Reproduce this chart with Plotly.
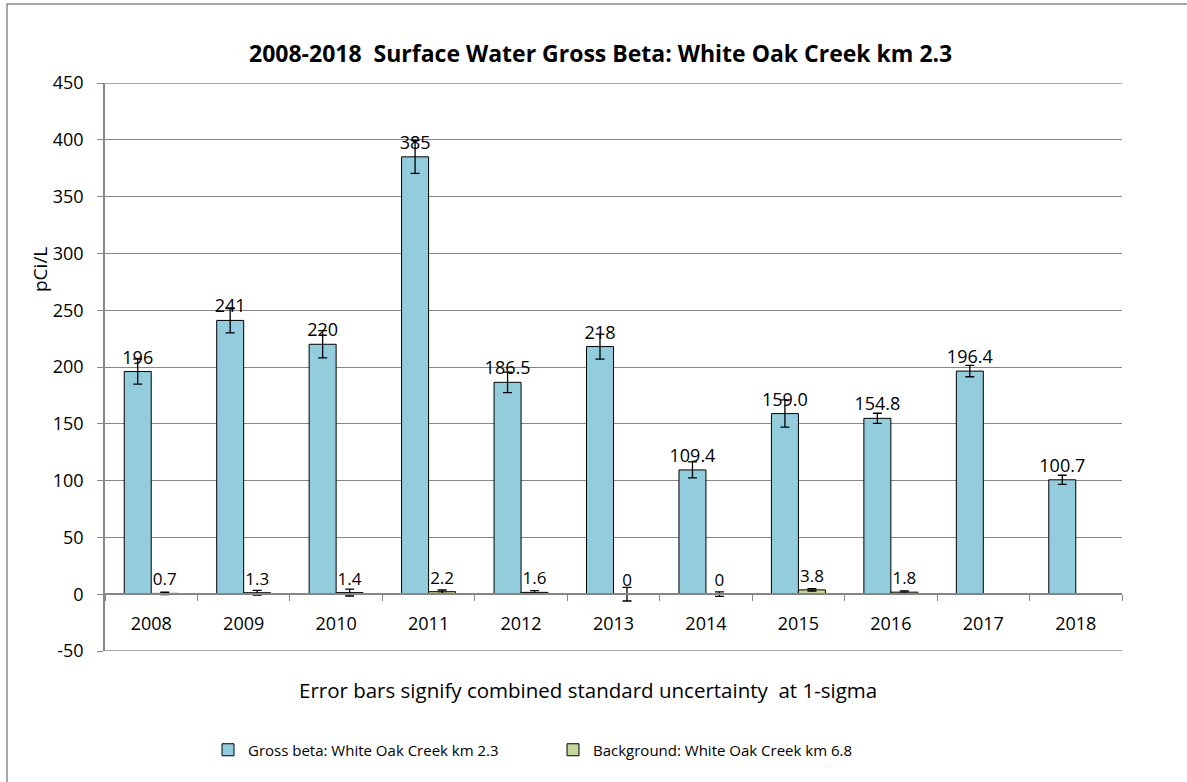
import plotly.graph_objects as go

years = ["2008", "2009", "2010", "2011", "2012", "2013", "2014", "2015", "2016", "2017", "2018"]
gross_beta = [196, 241, 220, 385, 186.5, 218, 109.4, 159.0, 154.8, 196.4, 100.7]
gross_beta_err = [11, 11, 12, 14.5, 9, 11, 7, 12, 4.5, 5, 4]
gross_beta_labels = ["196", "241", "220", "385", "186.5", "218", "109.4", "159.0", "154.8", "196.4", "100.7"]
background = [0.7, 1.3, 1.4, 2.2, 1.6, 0, 0, 3.8, 1.8, None, None]
background_err = [1, 2, 3, 1.5, 1.5, 6, 2, 1, 1, None, None]
background_labels = ["0.7", "1.3", "1.4", "2.2", "1.6", "0", "0", "3.8", "1.8", "", ""]
y_ticks = [-50, 0, 50, 100, 150, 200, 250, 300, 350, 400, 450]
y_tick_labels = ["-50", "0", "50", "100", "150", "200", "250", "300", "350", "400", "450"]

W, H = 1187, 782
L, R, T, B = 105, 65, 83, 131
pw, ph = W - L - R, H - T - B
ymin, ymax = -50, 450
FONT = "Open Sans"
GRAY = "#868686"

def px_x(p):
    return (p - L) / pw

def px_y(p):
    return (H - B - p) / ph

fig = go.Figure()
fig.add_trace(go.Bar(
    x=years, y=gross_beta, name="Gross beta: White Oak Creek km 2.3",
    marker=dict(color="#93CDDD", line=dict(color="#000000", width=1)),
    error_y=dict(type="data", array=gross_beta_err, color="#000000", thickness=1.3, width=4.5),
    text=gross_beta_labels, textposition="outside", cliponaxis=False, constraintext="none",
    textfont=dict(family=FONT, size=18, color="#000000"),
))
fig.add_trace(go.Bar(
    x=years, y=background, name="Background: White Oak Creek km 6.8",
    marker=dict(color="#C3D69B", line=dict(color="#000000", width=1)),
    error_y=dict(type="data", array=background_err, color="#000000", thickness=1.3, width=4.5),
    text=background_labels, textposition="outside", cliponaxis=False, constraintext="none",
    textfont=dict(family=FONT, size=17, color="#000000"),
))

zero_frac = (0 - ymin) / (ymax - ymin)

fig.update_layout(
    width=W, height=H,
    margin=dict(l=L, r=R, t=T, b=B),
    paper_bgcolor="white", plot_bgcolor="white",
    font=dict(family=FONT, size=16, color="#000000"),
    barmode="group", bargap=0.416, bargroupgap=0,
    showlegend=True,
    legend=dict(orientation="h", x=px_x(553), xanchor="center", y=px_y(750), yanchor="middle",
                entrywidth=300, entrywidthmode="pixels", font=dict(family=FONT, size=15),
                itemclick=False),
    xaxis=dict(type="category", anchor="free", position=zero_frac,
               showline=True, linecolor=GRAY, linewidth=1.5,
               ticks="outside", tickson="boundaries", ticklen=6, tickcolor=GRAY,
               showgrid=False, ticklabelstandoff=13,
               tickfont=dict(family=FONT, size=18, color="#000000")),
    yaxis=dict(range=[ymin, ymax], tickvals=y_ticks, ticktext=y_tick_labels,
               showgrid=True, gridcolor=GRAY, gridwidth=1.3,
               showline=True, linecolor=GRAY, linewidth=1.5, zeroline=False,
               ticks="outside", ticklen=6, tickcolor=GRAY, ticklabelstandoff=10,
               tickfont=dict(family=FONT, size=18, color="#000000")),
    annotations=[
        dict(text="<b>2008-2018  Surface Water Gross Beta: White Oak Creek km 2.3</b>",
             xref="paper", yref="paper", x=px_x(600), y=px_y(53), xanchor="center", yanchor="middle",
             showarrow=False, font=dict(family=FONT, size=23, color="#000000")),
        dict(text="pCi/L", xref="paper", yref="paper", x=px_x(40), y=px_y(270), textangle=-90,
             xanchor="center", yanchor="middle", showarrow=False,
             font=dict(family=FONT, size=19, color="#000000")),
        dict(text="Error bars signify combined standard uncertainty  at 1-sigma",
             xref="paper", yref="paper", x=px_x(588), y=px_y(690), xanchor="center", yanchor="middle",
             showarrow=False, font=dict(family=FONT, size=20.5, color="#000000")),
    ],
    shapes=[
        dict(type="rect", xref="paper", yref="paper", x0=px_x(7), y0=px_y(800), x1=px_x(1200), y1=px_y(4),
             line=dict(color="#8c8c8c", width=1.5), fillcolor="rgba(0,0,0,0)", layer="below"),
        dict(type="line", xref="paper", yref="y", x0=0, x1=1, y0=ymax, y1=ymax,
             line=dict(color=GRAY, width=1.3), layer="below"),
        dict(type="line", xref="paper", yref="y", x0=0, x1=1, y0=ymin, y1=ymin,
             line=dict(color=GRAY, width=1.3), layer="below"),
    ],
)

fig.write_html("out.html", config={"displayModeBar": False},
               post_script="document.body.style.margin='0';document.body.style.overflow='hidden';")
